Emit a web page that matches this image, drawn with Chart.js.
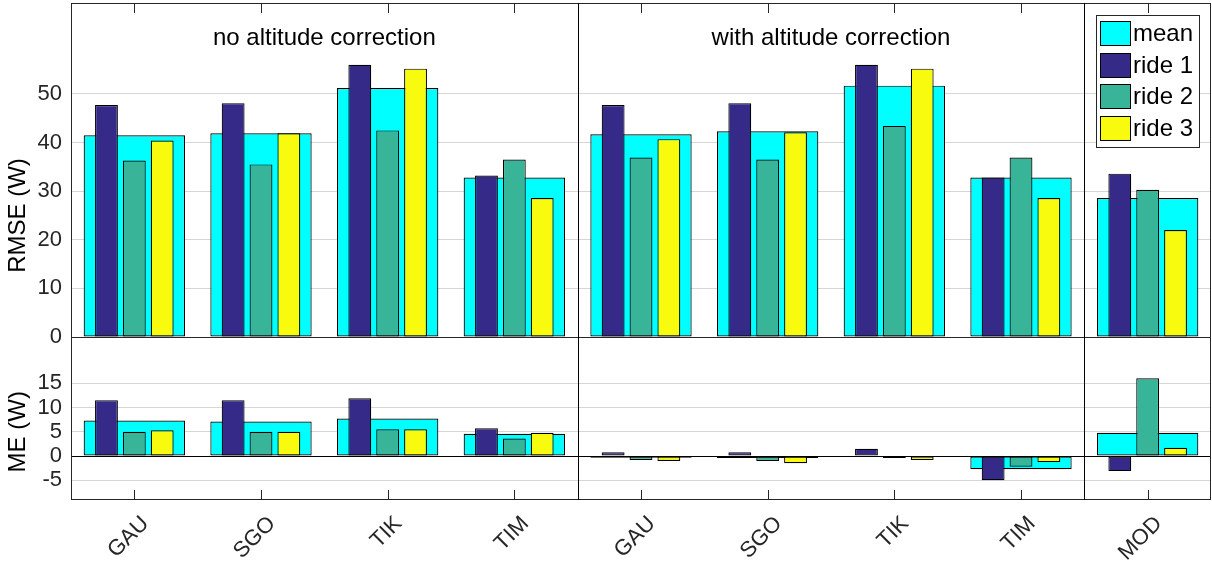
<!DOCTYPE html>
<html>
<head>
<meta charset="utf-8">
<script src="https://cdn.jsdelivr.net/npm/chart.js@4.4.0/dist/chart.umd.min.js"></script>
<style>
  html, body { margin: 0; padding: 0; background: #fff; }
  #wrap { width: 1212px; height: 565px; }
</style>
</head>
<body>
<div id="wrap"><canvas id="myChart"></canvas></div>
<script>
var categories = ['GAU', 'SGO', 'TIK', 'TIM', 'GAU', 'SGO', 'TIK', 'TIM', 'MOD'];
var seriesNames = ['mean', 'ride 1', 'ride 2', 'ride 3'];
var panelTitles = ['no altitude correction', 'with altitude correction'];

var rmseMean  = [41.5, 41.9, 51.2, 32.8, 41.7, 42.3, 51.7, 32.8, 28.6];
var rmseRide1 = [47.7, 48.1, 56.0, 33.2, 47.7, 48.1, 56.0, 32.8, 33.6];
var rmseRide2 = [36.3, 35.5, 42.5, 36.5, 36.9, 36.5, 43.4, 36.9, 30.3];
var rmseRide3 = [40.4, 41.9, 55.2, 28.6, 40.7, 42.1, 55.2, 28.6, 22.0];

var meMean  = [7.3, 7.1, 7.7, 4.6, -0.35, -0.4, 0.1, -2.7, 4.8];
var meRide1 = [11.5, 11.5, 11.9, 5.7, 0.8, 0.8, 1.5, -5.0, -3.1];
var meRide2 = [5.0, 5.0, 5.5, 3.6, -0.8, -1.0, -0.4, -2.2, 16.0];
var meRide3 = [5.3, 5.0, 5.5, 4.8, -1.0, -1.5, -0.8, -1.25, 1.7];

var rmseTicks = [0, 10, 20, 30, 40, 50];
var meTicks = [-5, 0, 5, 10, 15];

var colors = ['#00ffff', '#352a87', '#38b599', '#f9fb0e'];
var FONT = "'Liberation Sans', Arial, sans-serif";
var TXT = '#262626';

function makeSets(series, axis) {
    return series.map(function (vals, k) {
        var isMean = k === 0;
        return {
            label: seriesNames[k],
            data: vals.map(function (v, i) { return { x: i, y: v }; }),
            yAxisID: axis,
            backgroundColor: colors[k],
            borderColor: '#000',
            borderWidth: 1.2,
            borderSkipped: false,
            inflateAmount: 0,
            grouped: !isMean,
            stack: 's' + k,
            order: isMean ? 1 : 0,
            categoryPercentage: isMean ? 1 : 0.66,
            barPercentage: isMean ? 0.8 : 0.82
        };
    });
}

function fixTicks(list) {
    return function (scale) {
        scale.ticks = list.map(function (v) { return { value: v }; });
    };
}

function fitY(scale) {
    scale.width = 71;
    scale.paddingTop = 0;
    scale.paddingBottom = 0;
}

var frame = {
    id: 'frame',
    afterDraw: function (chart) {
        var ctx = chart.ctx, a = chart.chartArea;
        var x = chart.scales.x, yR = chart.scales.yR, yM = chart.scales.yM;
        function line(x1, y1, x2, y2) {
            ctx.beginPath();
            ctx.moveTo(x1, y1);
            ctx.lineTo(x2, y2);
            ctx.stroke();
        }
        ctx.save();
        ctx.strokeStyle = TXT;
        ctx.lineWidth = 1;
        ctx.strokeRect(Math.round(a.left) + 0.5, Math.round(a.top) + 0.5,
            Math.round(a.width) - 1, Math.round(a.height) - 1);
        var mid = Math.round(yR.bottom) + 0.5;
        line(a.left, mid, a.right, mid);

        // group separators
        ctx.strokeStyle = '#000';
        [3.5, 7.5].forEach(function (b) {
            var px = Math.round(x.getPixelForValue(b)) + 0.5;
            line(px, a.top, px, a.bottom);
        });

        // inner tick marks on top and bottom
        ctx.strokeStyle = TXT;
        categories.forEach(function (c, i) {
            var px = Math.round(x.getPixelForValue(i)) + 0.5;
            line(px, a.top, px, a.top + 10);
            line(px, a.bottom, px, a.bottom - 10);
        });

        // panel titles
        ctx.fillStyle = '#000';
        ctx.font = '24px ' + FONT;
        ctx.textAlign = 'center';
        ctx.textBaseline = 'middle';
        ctx.fillText(panelTitles[0], x.getPixelForValue(1.5), yR.getPixelForValue(61.4));
        ctx.fillText(panelTitles[1], x.getPixelForValue(5.5), yR.getPixelForValue(61.4));

        // axis titles
        [[yR, 25, 'RMSE (W)'], [yM, 5, 'ME (W)']].forEach(function (t) {
            ctx.save();
            ctx.translate(18, t[0].getPixelForValue(t[1]));
            ctx.rotate(-Math.PI / 2);
            ctx.fillText(t[2], 0, 0);
            ctx.restore();
        });

        // legend
        var bw = 103, bh = 132;
        var bx = Math.round(a.right) - 12 - bw, by = Math.round(a.top) + 12;
        ctx.fillStyle = '#fff';
        ctx.fillRect(bx, by, bw, bh);
        ctx.strokeStyle = TXT;
        ctx.strokeRect(bx + 0.5, by + 0.5, bw, bh);
        ctx.textAlign = 'left';
        seriesNames.forEach(function (name, k) {
            var sy = Math.round(by + 6 + k * 31.5);
            ctx.fillStyle = colors[k];
            ctx.fillRect(bx + 4, sy, 30, 24);
            ctx.strokeStyle = '#000';
            ctx.strokeRect(bx + 4.5, sy + 0.5, 30, 24);
            ctx.fillStyle = '#000';
            ctx.fillText(name, bx + 37, sy + 13);
        });
        ctx.restore();
    }
};

document.addEventListener('DOMContentLoaded', function () {
    Chart.defaults.font.family = FONT;
    var ctx = document.getElementById('myChart').getContext('2d');
    var datasets = makeSets([rmseMean, rmseRide1, rmseRide2, rmseRide3], 'yR')
        .concat(makeSets([meMean, meRide1, meRide2, meRide3], 'yM'));
    new Chart(ctx, {
        type: 'bar',
        data: { datasets: datasets },
        plugins: [frame],
        options: {
            responsive: true,
            maintainAspectRatio: false,
            animation: false,
            layout: { padding: { top: 3, right: 1, left: 0, bottom: 0 } },
            plugins: {
                legend: { display: false },
                tooltip: { enabled: false }
            },
            scales: {
                x: {
                    type: 'linear',
                    min: -0.5,
                    max: 8.5,
                    offset: false,
                    grid: { display: false, drawTicks: false },
                    border: { display: false },
                    afterBuildTicks: function (s) {
                        s.ticks = categories.map(function (c, i) { return { value: i }; });
                    },
                    afterFit: function (s) {
                        s.height = 65;
                        s.paddingLeft = 0;
                        s.paddingRight = 0;
                    },
                    ticks: {
                        autoSkip: false,
                        minRotation: 45,
                        maxRotation: 45,
                        padding: 11,
                        labelOffset: 11,
                        color: TXT,
                        font: { size: 22 },
                        callback: function (v) { return categories[v]; }
                    }
                },
                yM: {
                    type: 'linear',
                    position: 'left',
                    stack: 'panels',
                    stackWeight: 163,
                    min: -9.05,
                    max: 24.5,
                    afterBuildTicks: fixTicks(meTicks),
                    afterFit: fitY,
                    border: { display: false },
                    grid: {
                        drawTicks: false,
                        color: function (c) {
                            return c.tick && c.tick.value === 0 ? '#000' : '#d6d6d6';
                        }
                    },
                    ticks: { autoSkip: false, padding: 9, color: TXT, font: { size: 22 } }
                },
                yR: {
                    type: 'linear',
                    position: 'left',
                    stack: 'panels',
                    stackWeight: 334,
                    min: 0,
                    max: 68.7,
                    afterBuildTicks: fixTicks(rmseTicks),
                    afterFit: fitY,
                    border: { display: false },
                    grid: { drawTicks: false, color: '#d6d6d6' },
                    ticks: { autoSkip: false, padding: 9, color: TXT, font: { size: 22 } }
                }
            }
        }
    });
});
</script>
</body>
</html>
